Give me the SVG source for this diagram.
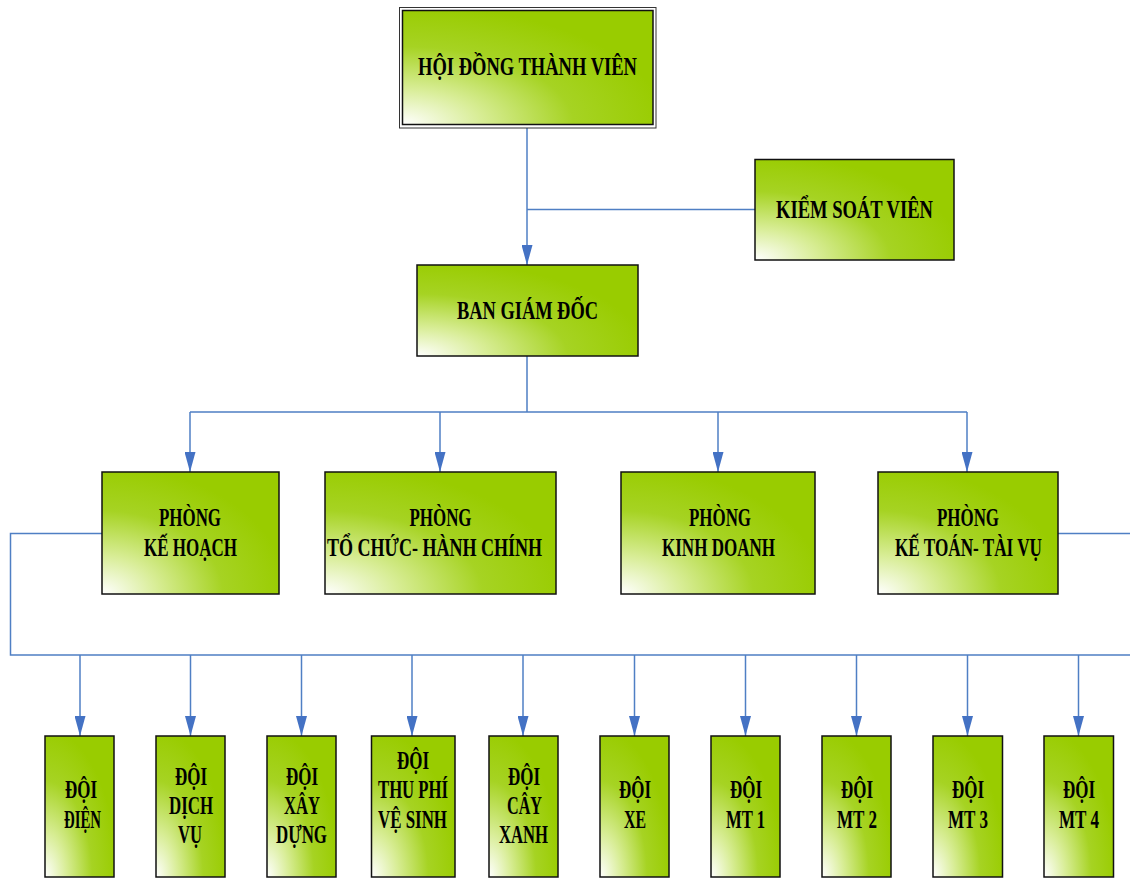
<svg xmlns="http://www.w3.org/2000/svg" width="1130" height="878" viewBox="0 0 1130 878">
<defs>
<radialGradient id="g" cx="0" cy="1" r="1.05" fx="0" fy="1">
<stop offset="0" stop-color="#ffffff"/>
<stop offset="0.3" stop-color="#d8ed96"/>
<stop offset="0.65" stop-color="#a6d323"/>
<stop offset="1" stop-color="#99cc00"/>
</radialGradient>
<marker id="arr" markerUnits="userSpaceOnUse" markerWidth="20" markerHeight="11" refX="20" refY="5.5" orient="auto">
<path d="M0,0 L20,5.5 L0,11 z" fill="#4472c4"/>
</marker>
</defs>
<style>
.box{fill:url(#g);stroke:#111;stroke-width:1.5}
.t{font-family:"Liberation Serif","Times New Roman",serif;font-weight:bold;font-size:26px;fill:#000;text-anchor:middle}
.c{fill:none;stroke:#4f7fc4;stroke-width:1.5}
.a{fill:none;stroke:#4f7fc4;stroke-width:1.5;marker-end:url(#arr)}
</style>
<rect width="1130" height="878" fill="#fff"/>
<g id="connectors">
<path class="a" d="M527,128 V265"/>
<path class="c" d="M527,209.5 H755"/>
<path class="c" d="M527,356 V412 M190,412 H967"/>
<path class="a" d="M190,412 V472"/>
<path class="a" d="M440,412 V472"/>
<path class="a" d="M718,412 V472"/>
<path class="a" d="M967,412 V472"/>
<path class="c" d="M102,533.5 H10.5 V655 H1130"/>
<path class="c" d="M1058,533.5 H1130"/>
<path class="a" d="M80,655 V736"/>
<path class="a" d="M190.5,655 V736"/>
<path class="a" d="M301.5,655 V736"/>
<path class="a" d="M412,655 V736"/>
<path class="a" d="M523,655 V736"/>
<path class="a" d="M634.5,655 V736"/>
<path class="a" d="M745.5,655 V736"/>
<path class="a" d="M856.5,655 V736"/>
<path class="a" d="M967.5,655 V736"/>
<path class="a" d="M1078.5,655 V736"/>
</g>
<g id="hdtv">
<rect x="399.5" y="7.5" width="256.5" height="120.5" fill="#fff" stroke="#333" stroke-width="1"/>
<rect class="box" x="402.5" y="10.5" width="250.5" height="114"/>
<text class="t" x="527.5" y="75" textLength="219" lengthAdjust="spacingAndGlyphs">HỘI ĐỒNG THÀNH VIÊN</text>
</g>
<g id="ksv">
<rect class="box" x="755" y="159.5" width="199" height="100.5"/>
<text class="t" x="854.5" y="218" textLength="157" lengthAdjust="spacingAndGlyphs">KIỂM SOÁT VIÊN</text>
</g>
<g id="bgd">
<rect class="box" x="417" y="265" width="221" height="91"/>
<text class="t" x="527.5" y="319" textLength="141" lengthAdjust="spacingAndGlyphs">BAN GIÁM ĐỐC</text>
</g>
<g id="pkh">
<rect class="box" x="102" y="472" width="177" height="122"/>
<text class="t" x="190" y="526" textLength="62" lengthAdjust="spacingAndGlyphs">PHÒNG</text>
<text class="t" x="190.5" y="556" textLength="93" lengthAdjust="spacingAndGlyphs">KẾ HOẠCH</text>
</g>
<g id="ptchc">
<rect class="box" x="325" y="472" width="231" height="122"/>
<text class="t" x="440.5" y="526" textLength="62" lengthAdjust="spacingAndGlyphs">PHÒNG</text>
<text class="t" x="434.5" y="556" textLength="215" lengthAdjust="spacingAndGlyphs">TỔ CHỨC- HÀNH CHÍNH</text>
</g>
<g id="pkd">
<rect class="box" x="621" y="472" width="194" height="122"/>
<text class="t" x="720" y="526" textLength="62" lengthAdjust="spacingAndGlyphs">PHÒNG</text>
<text class="t" x="718.5" y="556" textLength="113" lengthAdjust="spacingAndGlyphs">KINH DOANH</text>
</g>
<g id="pkttv">
<rect class="box" x="878" y="472" width="180" height="122"/>
<text class="t" x="968" y="526" textLength="62" lengthAdjust="spacingAndGlyphs">PHÒNG</text>
<text class="t" x="968.5" y="556" textLength="147" lengthAdjust="spacingAndGlyphs">KẾ TOÁN- TÀI VỤ</text>
</g>
<g id="d-dien">
<rect class="box" x="45" y="736" width="69" height="141"/>
<text class="t" x="81" y="798" textLength="32" lengthAdjust="spacingAndGlyphs">ĐỘI</text>
<text class="t" x="82.5" y="828" textLength="37" lengthAdjust="spacingAndGlyphs">ĐIỆN</text>
</g>
<g id="d-dichvu">
<rect class="box" x="156" y="736" width="69" height="141"/>
<text class="t" x="191" y="785" textLength="32" lengthAdjust="spacingAndGlyphs">ĐỘI</text>
<text class="t" x="191" y="814" textLength="44" lengthAdjust="spacingAndGlyphs">DỊCH</text>
<text class="t" x="190" y="843" textLength="24" lengthAdjust="spacingAndGlyphs">VỤ</text>
</g>
<g id="d-xaydung">
<rect class="box" x="267" y="736" width="69" height="141"/>
<text class="t" x="302" y="785" textLength="32" lengthAdjust="spacingAndGlyphs">ĐỘI</text>
<text class="t" x="302" y="814" textLength="36" lengthAdjust="spacingAndGlyphs">XÂY</text>
<text class="t" x="301.5" y="843" textLength="51" lengthAdjust="spacingAndGlyphs">DỰNG</text>
</g>
<g id="d-thuphi">
<rect class="box" x="371.5" y="736" width="83.5" height="141"/>
<text class="t" x="413" y="769" textLength="32" lengthAdjust="spacingAndGlyphs">ĐỘI</text>
<text class="t" x="413" y="798" textLength="70" lengthAdjust="spacingAndGlyphs">THU PHÍ</text>
<text class="t" x="412.5" y="828" textLength="69" lengthAdjust="spacingAndGlyphs">VỆ SINH</text>
</g>
<g id="d-cayxanh">
<rect class="box" x="489" y="736" width="69" height="141"/>
<text class="t" x="524" y="785" textLength="32" lengthAdjust="spacingAndGlyphs">ĐỘI</text>
<text class="t" x="524.5" y="814" textLength="35" lengthAdjust="spacingAndGlyphs">CÂY</text>
<text class="t" x="523.5" y="843" textLength="49" lengthAdjust="spacingAndGlyphs">XANH</text>
</g>
<g id="d-xe">
<rect class="box" x="600" y="736" width="69" height="141"/>
<text class="t" x="635" y="798" textLength="32" lengthAdjust="spacingAndGlyphs">ĐỘI</text>
<text class="t" x="635" y="828" textLength="22" lengthAdjust="spacingAndGlyphs">XE</text>
</g>
<g id="d-mt1">
<rect class="box" x="711" y="736" width="69" height="141"/>
<text class="t" x="746" y="798" textLength="32" lengthAdjust="spacingAndGlyphs">ĐỘI</text>
<text class="t" x="745.5" y="828" textLength="39" lengthAdjust="spacingAndGlyphs">MT 1</text>
</g>
<g id="d-mt2">
<rect class="box" x="822" y="736" width="69" height="141"/>
<text class="t" x="857" y="798" textLength="32" lengthAdjust="spacingAndGlyphs">ĐỘI</text>
<text class="t" x="857" y="828" textLength="40" lengthAdjust="spacingAndGlyphs">MT 2</text>
</g>
<g id="d-mt3">
<rect class="box" x="933" y="736" width="69.5" height="141"/>
<text class="t" x="968" y="798" textLength="32" lengthAdjust="spacingAndGlyphs">ĐỘI</text>
<text class="t" x="968" y="828" textLength="40" lengthAdjust="spacingAndGlyphs">MT 3</text>
</g>
<g id="d-mt4">
<rect class="box" x="1044" y="736" width="69.5" height="141"/>
<text class="t" x="1079" y="798" textLength="32" lengthAdjust="spacingAndGlyphs">ĐỘI</text>
<text class="t" x="1079" y="828" textLength="40" lengthAdjust="spacingAndGlyphs">MT 4</text>
</g>
</svg>
